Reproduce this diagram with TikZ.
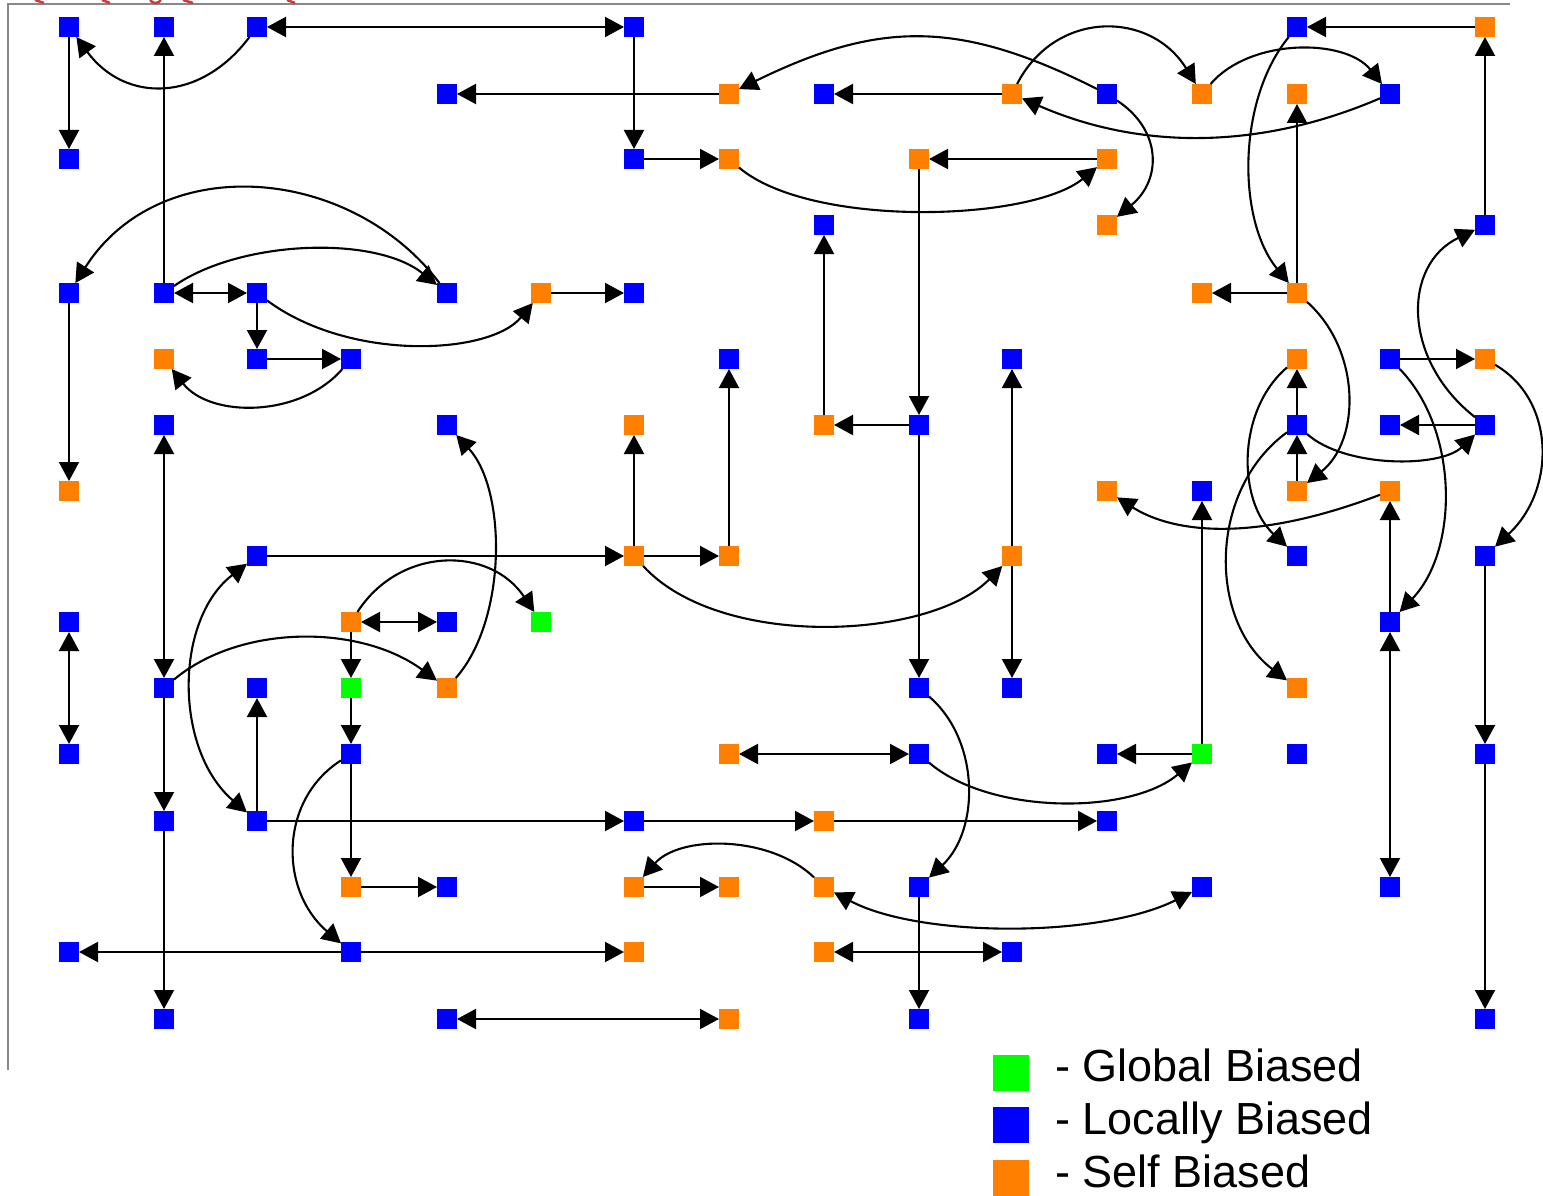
\documentclass[tikz,border=0pt]{standalone}
\usepackage{fontspec}
\setmainfont{Liberation Sans}
\usetikzlibrary{arrows.meta}
\definecolor{bblue}{RGB}{0,0,255}
\definecolor{borange}{RGB}{255,128,0}
\definecolor{bgreen}{RGB}{0,255,0}
\definecolor{frame}{RGB}{136,136,136}
\definecolor{redtxt}{RGB}{200,60,60}
\tikzset{
  sq/.style={rectangle, minimum size=20pt, inner sep=0pt, outer sep=0pt, draw=none},
  B/.style={sq, fill=bblue},
  O/.style={sq, fill=borange},
  G/.style={sq, fill=bgreen},
  lg/.style={rectangle, minimum size=36pt, inner sep=0pt, draw=none},
  lgtext/.style={anchor=base west, inner sep=0pt, font=\fontsize{45}{54}\selectfont},
  arr/.style={line width=2.1pt, -{Triangle[length=19pt,width=20pt]}},
  biarr/.style={line width=2.1pt, {Triangle[length=19pt,width=20pt]}-{Triangle[length=19pt,width=20pt]}},
}
\begin{document}
\begin{tikzpicture}[x=1pt,y=1pt]
\useasboundingbox (0,0) rectangle (1543,-1196);
\fill[white] (0,0) rectangle (1543,-1196);
% frame
\draw[frame, line width=2pt] (8,-1070) -- (8,-4) -- (1510,-4);
% cut-off red marks at the top edge
\begin{scope}[redtxt, line width=2.5pt]
\draw (35,0) -- (44,-3);
\draw (102,0) -- (110,-3);
\draw (150,0) .. controls (153,-4) and (158,-4) .. (161,0);
\draw (183,0) -- (193,-3);
\draw (287,0) -- (295,-3);
\end{scope}
% row 1
\node[B] (n1-1) at (69,-27) {};
\node[B] (n2-1) at (164,-27) {};
\node[B] (n3-1) at (257,-27) {};
\node[B] (n7-1) at (634,-27) {};
\node[B] (n14-1) at (1297,-27) {};
\node[O] (n16-1) at (1485,-27) {};
% row 2
\node[B] (n5-2) at (447,-94) {};
\node[O] (n8-2) at (729,-94) {};
\node[B] (n9-2) at (824,-94) {};
\node[O] (n11-2) at (1012,-94) {};
\node[B] (n12-2) at (1107,-94) {};
\node[O] (n13-2) at (1202,-94) {};
\node[O] (n14-2) at (1297,-94) {};
\node[B] (n15-2) at (1390,-94) {};
% row 3
\node[B] (n1-3) at (69,-159) {};
\node[B] (n7-3) at (634,-159) {};
\node[O] (n8-3) at (729,-159) {};
\node[O] (n10-3) at (919,-159) {};
\node[O] (n12-3) at (1107,-159) {};
% row 4
\node[B] (n9-4) at (824,-225) {};
\node[O] (n12-4) at (1107,-225) {};
\node[B] (n16-4) at (1485,-225) {};
% row 5
\node[B] (n1-5) at (69,-293) {};
\node[B] (n2-5) at (164,-293) {};
\node[B] (n3-5) at (257,-293) {};
\node[B] (n5-5) at (447,-293) {};
\node[O] (n6-5) at (541,-293) {};
\node[B] (n7-5) at (634,-293) {};
\node[O] (n13-5) at (1202,-293) {};
\node[O] (n14-5) at (1297,-293) {};
% row 6
\node[O] (n2-6) at (164,-359) {};
\node[B] (n3-6) at (257,-359) {};
\node[B] (n4-6) at (351,-359) {};
\node[B] (n8-6) at (729,-359) {};
\node[B] (n11-6) at (1012,-359) {};
\node[O] (n14-6) at (1297,-359) {};
\node[B] (n15-6) at (1390,-359) {};
\node[O] (n16-6) at (1485,-359) {};
% row 7
\node[B] (n2-7) at (164,-425) {};
\node[B] (n5-7) at (447,-425) {};
\node[O] (n7-7) at (634,-425) {};
\node[O] (n9-7) at (824,-425) {};
\node[B] (n10-7) at (919,-425) {};
\node[B] (n14-7) at (1297,-425) {};
\node[B] (n15-7) at (1390,-425) {};
\node[B] (n16-7) at (1485,-425) {};
% row 8
\node[O] (n1-8) at (69,-491) {};
\node[O] (n12-8) at (1107,-491) {};
\node[B] (n13-8) at (1202,-491) {};
\node[O] (n14-8) at (1297,-491) {};
\node[O] (n15-8) at (1390,-491) {};
% row 9
\node[B] (n3-9) at (257,-556) {};
\node[O] (n7-9) at (634,-556) {};
\node[O] (n8-9) at (729,-556) {};
\node[O] (n11-9) at (1012,-556) {};
\node[B] (n14-9) at (1297,-556) {};
\node[B] (n16-9) at (1485,-556) {};
% row 10
\node[B] (n1-10) at (69,-622) {};
\node[O] (n4-10) at (351,-622) {};
\node[B] (n5-10) at (447,-622) {};
\node[G] (n6-10) at (541,-622) {};
\node[B] (n15-10) at (1390,-622) {};
% row 11
\node[B] (n2-11) at (164,-688) {};
\node[B] (n3-11) at (257,-688) {};
\node[G] (n4-11) at (351,-688) {};
\node[O] (n5-11) at (447,-688) {};
\node[B] (n10-11) at (919,-688) {};
\node[B] (n11-11) at (1012,-688) {};
\node[O] (n14-11) at (1297,-688) {};
% row 12
\node[B] (n1-12) at (69,-754) {};
\node[B] (n4-12) at (351,-754) {};
\node[O] (n8-12) at (729,-754) {};
\node[B] (n10-12) at (919,-754) {};
\node[B] (n12-12) at (1107,-754) {};
\node[G] (n13-12) at (1202,-754) {};
\node[B] (n14-12) at (1297,-754) {};
\node[B] (n16-12) at (1485,-754) {};
% row 13
\node[B] (n2-13) at (164,-821) {};
\node[B] (n3-13) at (257,-821) {};
\node[B] (n7-13) at (634,-821) {};
\node[O] (n9-13) at (824,-821) {};
\node[B] (n12-13) at (1107,-821) {};
% row 14
\node[O] (n4-14) at (351,-887) {};
\node[B] (n5-14) at (447,-887) {};
\node[O] (n7-14) at (634,-887) {};
\node[O] (n8-14) at (729,-887) {};
\node[O] (n9-14) at (824,-887) {};
\node[B] (n10-14) at (919,-887) {};
\node[B] (n13-14) at (1202,-887) {};
\node[B] (n15-14) at (1390,-887) {};
% row 15
\node[B] (n1-15) at (69,-952) {};
\node[B] (n4-15) at (351,-952) {};
\node[O] (n7-15) at (634,-952) {};
\node[O] (n9-15) at (824,-952) {};
\node[B] (n11-15) at (1012,-952) {};
% row 16
\node[B] (n2-16) at (164,-1019) {};
\node[B] (n5-16) at (447,-1019) {};
\node[O] (n8-16) at (729,-1019) {};
\node[B] (n10-16) at (919,-1019) {};
\node[B] (n16-16) at (1485,-1019) {};

% ---------- connectors ----------
\draw[biarr] (n3-1) -- (n7-1);
\draw[arr] (n1-1) -- (n1-3);
\draw[arr] (n2-5) -- (n2-1);
\draw[arr] (n3-1) .. controls (200,-103) and (125,-103) .. (n1-1);
\draw[arr] (n7-1) -- (n7-3);
\draw[arr] (n8-2) -- (n5-2);
\draw[arr] (n7-3) -- (n8-3);
\draw[arr] (n8-3) .. controls (810,-228) and (1030,-222) .. (n12-3);
\draw[arr] (n12-3) -- (n10-3);
\draw[arr] (n11-2) -- (n9-2);
\draw[arr] (n12-2) .. controls (960,-20) and (880,-20) .. (n8-2);
\draw[arr] (n11-2) .. controls (1055,-10) and (1150,-10) .. (n13-2);
\draw[arr] (n15-2) .. controls (1260,-150) and (1140,-150) .. (n11-2);
\draw[arr] (n12-2) .. controls (1162,-130) and (1162,-180) .. (n12-4);
\draw[arr] (n13-2) .. controls (1250,-38) and (1345,-38) .. (n15-2);
\draw[arr] (n16-1) -- (n14-1);
\draw[arr] (n16-4) -- (n16-1);
\draw[arr] (n14-5) -- (n14-2);
\draw[arr] (n14-1) .. controls (1237,-100) and (1237,-220) .. (n14-5);
\draw[arr] (n14-5) -- (n13-5);
\draw[arr] (n14-5) .. controls (1361,-350) and (1361,-440) .. (n14-8);
\draw[arr] (n16-7) .. controls (1402,-360) and (1402,-265) .. (n16-4);
\draw[arr] (n15-6) -- (n16-6);
\draw[arr] (n16-6) .. controls (1556,-400) and (1556,-490) .. (n16-9);
\draw[arr] (n16-7) -- (n15-7);
\draw[arr] (n15-6) .. controls (1459,-430) and (1459,-550) .. (n15-10);
\draw[arr] (n14-7) -- (n14-6);
\draw[arr] (n14-8) -- (n14-7);
\draw[arr] (n14-7) .. controls (1345,-468) and (1440,-468) .. (n16-7);
\draw[arr] (n14-6) .. controls (1237,-410) and (1237,-500) .. (n14-9);
\draw[arr] (n14-7) .. controls (1208,-490) and (1208,-620) .. (n14-11);
\draw[arr] (n15-8) .. controls (1240,-548) and (1165,-528) .. (n12-8);
\draw[arr] (n15-10) -- (n15-8);
\draw[biarr] (n15-10) -- (n15-14);
\draw[arr] (n13-12) -- (n13-8);
\draw[arr] (n13-12) -- (n12-12);
\draw[arr] (n16-9) -- (n16-12);
\draw[arr] (n16-12) -- (n16-16);
\draw[arr] (n10-12) .. controls (990,-815) and (1130,-815) .. (n13-12);
\draw[biarr] (n8-12) -- (n10-12);
\draw[arr] (n10-11) .. controls (980,-740) and (980,-830) .. (n10-14);
\draw[arr] (n10-7) -- (n10-11);
\draw[arr] (n10-3) -- (n10-7);
\draw[arr] (n10-7) -- (n9-7);
\draw[arr] (n9-7) -- (n9-4);
\draw[arr] (n11-9) -- (n11-6);
\draw[arr] (n11-9) -- (n11-11);
\draw[arr] (n7-9) .. controls (720,-650) and (930,-640) .. (n11-9);
\draw[arr] (n7-9) -- (n7-7);
\draw[arr] (n7-9) -- (n8-9);
\draw[arr] (n8-9) -- (n8-6);
\draw[arr] (n3-9) -- (n7-9);
\draw[biarr] (n3-9) .. controls (174,-620) and (174,-750) .. (n3-13);
\draw[arr] (n3-13) -- (n3-11);
\draw[arr] (n3-13) -- (n7-13);
\draw[arr] (n7-13) -- (n9-13);
\draw[arr] (n9-13) -- (n12-13);
\draw[arr] (n2-11) -- (n2-13);
\draw[biarr] (n2-7) -- (n2-11);
\draw[arr] (n2-11) .. controls (240,-624) and (360,-624) .. (n5-11);
\draw[arr] (n5-11) .. controls (507,-620) and (507,-490) .. (n5-7);
\draw[biarr] (n4-10) -- (n5-10);
\draw[arr] (n4-10) -- (n4-11);
\draw[arr] (n4-10) .. controls (400,-546) and (490,-546) .. (n6-10);
\draw[arr] (n4-11) -- (n4-12);
\draw[arr] (n4-12) -- (n4-14);
\draw[arr] (n4-12) .. controls (279,-800) and (279,-890) .. (n4-15);
\draw[arr] (n4-14) -- (n5-14);
\draw[arr] (n4-15) -- (n1-15);
\draw[arr] (n4-15) -- (n7-15);
\draw[arr] (n2-13) -- (n2-16);
\draw[biarr] (n5-16) -- (n8-16);
\draw[arr] (n7-14) -- (n8-14);
\draw[arr] (n9-14) .. controls (770,-835) and (680,-835) .. (n7-14);
\draw[biarr] (n9-14) .. controls (920,-938) and (1100,-938) .. (n13-14);
\draw[biarr] (n9-15) -- (n11-15);
\draw[arr] (n10-14) -- (n10-16);
\draw[biarr] (n1-10) -- (n1-12);
\draw[arr] (n1-5) -- (n1-8);
\draw[arr] (n5-5) .. controls (350,-165) and (160,-150) .. (n1-5);
\draw[arr] (n2-5) .. controls (240,-240) and (375,-235) .. (n5-5);
\draw[biarr] (n2-5) -- (n3-5);
\draw[arr] (n3-5) -- (n3-6);
\draw[arr] (n3-6) -- (n4-6);
\draw[arr] (n4-6) .. controls (300,-418) and (210,-418) .. (n2-6);
\draw[arr] (n3-5) .. controls (350,-362) and (490,-355) .. (n6-5);
\draw[arr] (n6-5) -- (n7-5);

% ---------- legend ----------
\node[lg, fill=bgreen] (lgG) at (1011,-1073) {};
\node[lg, fill=bblue] (lgB) at (1011,-1125) {};
\node[lg, fill=borange] (lgO) at (1011,-1178) {};
\node[lgtext] (lgGt) at (1055,-1081) {- Global Biased};
\node[lgtext] (lgBt) at (1055,-1134) {- Locally Biased};
\node[lgtext] (lgOt) at (1055,-1187) {- Self Biased};
\end{tikzpicture}
\end{document}
